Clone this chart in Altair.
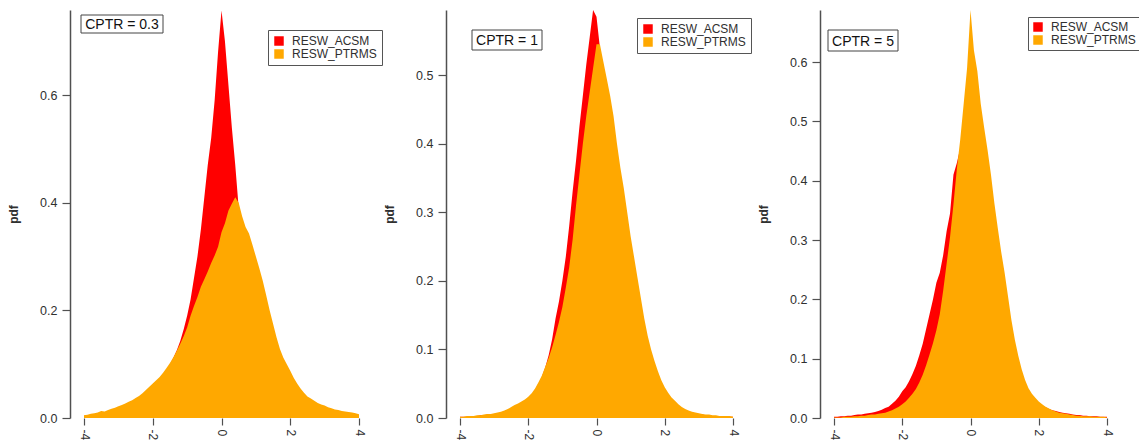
import altair as alt
import numpy as np
import pandas as pd

# bin centres (-4 .. 4, step 0.1)
bins = [round(v, 1) for v in np.arange(-40, 41) / 10.0]
series_names = ["RESW_ACSM", "RESW_PTRMS"]
series_colors = ["#FF0000", "#FFA800"]

# ---------- CPTR = 0.3 ----------
acsm_03 = [0.004, 0.005, 0.006, 0.007, 0.008, 0.010, 0.010, 0.012, 0.014, 0.016,
           0.018, 0.020, 0.022, 0.025, 0.028, 0.031, 0.035, 0.040, 0.045, 0.051,
           0.057, 0.064, 0.071, 0.080, 0.090, 0.100, 0.112, 0.126, 0.143, 0.165,
           0.190, 0.220, 0.260, 0.300, 0.350, 0.410, 0.470, 0.520, 0.590, 0.680,
           0.757, 0.700, 0.620, 0.540, 0.470, 0.390, 0.330, 0.280, 0.240, 0.210,
           0.180, 0.155, 0.135, 0.115, 0.100, 0.087, 0.076, 0.066, 0.058, 0.051,
           0.045, 0.040, 0.035, 0.031, 0.028, 0.025, 0.022, 0.020, 0.018, 0.016,
           0.014, 0.013, 0.012, 0.011, 0.010, 0.009, 0.008, 0.007, 0.006, 0.005,
           0.004]
ptrms_03 = [0.005, 0.006, 0.008, 0.009, 0.010, 0.013, 0.012, 0.015, 0.017, 0.019,
            0.022, 0.024, 0.027, 0.030, 0.033, 0.037, 0.041, 0.046, 0.052, 0.058,
            0.064, 0.070, 0.076, 0.084, 0.093, 0.102, 0.113, 0.125, 0.138, 0.152,
            0.168, 0.190, 0.208, 0.225, 0.244, 0.258, 0.272, 0.288, 0.302, 0.318,
            0.345, 0.362, 0.385, 0.398, 0.410, 0.400, 0.375, 0.355, 0.343, 0.322,
            0.300, 0.278, 0.255, 0.228, 0.200, 0.175, 0.150, 0.128, 0.112, 0.100,
            0.088, 0.075, 0.064, 0.055, 0.047, 0.040, 0.036, 0.032, 0.028, 0.025,
            0.023, 0.020, 0.018, 0.016, 0.015, 0.013, 0.012, 0.011, 0.010, 0.009,
            0.007]

# ---------- CPTR = 1 ----------
acsm_1 = [0.002, 0.002, 0.002, 0.003, 0.003, 0.003, 0.004, 0.004, 0.005, 0.005,
          0.006, 0.007, 0.008, 0.010, 0.012, 0.014, 0.017, 0.019, 0.022, 0.025,
          0.029, 0.034, 0.041, 0.050, 0.060, 0.074, 0.092, 0.115, 0.145, 0.170,
          0.200, 0.235, 0.280, 0.330, 0.375, 0.425, 0.470, 0.515, 0.555, 0.595,
          0.585, 0.540, 0.500, 0.460, 0.420, 0.380, 0.345, 0.310, 0.280, 0.250,
          0.220, 0.190, 0.165, 0.140, 0.120, 0.100, 0.083, 0.069, 0.057, 0.047,
          0.039, 0.032, 0.026, 0.021, 0.017, 0.014, 0.011, 0.009, 0.008, 0.007,
          0.006, 0.005, 0.004, 0.004, 0.003, 0.003, 0.003, 0.002, 0.002, 0.002,
          0.002]
ptrms_1 = [0.002, 0.002, 0.003, 0.003, 0.003, 0.004, 0.004, 0.005, 0.006, 0.006,
           0.007, 0.008, 0.009, 0.011, 0.013, 0.016, 0.019, 0.021, 0.024, 0.027,
           0.031, 0.036, 0.043, 0.052, 0.062, 0.075, 0.088, 0.103, 0.121, 0.140,
           0.162, 0.190, 0.220, 0.260, 0.310, 0.355, 0.400, 0.440, 0.475, 0.510,
           0.545, 0.545, 0.520, 0.495, 0.470, 0.440, 0.400, 0.365, 0.335, 0.300,
           0.265, 0.235, 0.205, 0.175, 0.145, 0.120, 0.100, 0.083, 0.068, 0.055,
           0.045, 0.037, 0.030, 0.025, 0.020, 0.016, 0.013, 0.011, 0.009, 0.008,
           0.007, 0.006, 0.005, 0.005, 0.004, 0.004, 0.003, 0.003, 0.003, 0.003,
           0.002]

# ---------- CPTR = 5 ----------
acsm_5 = [0.002, 0.002, 0.003, 0.003, 0.004, 0.004, 0.005, 0.006, 0.006, 0.007,
          0.008, 0.009, 0.010, 0.012, 0.014, 0.017, 0.019, 0.024, 0.029, 0.036,
          0.045, 0.052, 0.062, 0.074, 0.088, 0.106, 0.125, 0.150, 0.175, 0.200,
          0.228, 0.245, 0.275, 0.315, 0.345, 0.410, 0.430, 0.455, 0.470, 0.480,
          0.490, 0.470, 0.450, 0.420, 0.380, 0.340, 0.300, 0.270, 0.230, 0.200,
          0.170, 0.140, 0.115, 0.093, 0.075, 0.060, 0.048, 0.040, 0.034, 0.029,
          0.025, 0.021, 0.018, 0.015, 0.013, 0.012, 0.010, 0.009, 0.008, 0.007,
          0.006, 0.005, 0.005, 0.004, 0.004, 0.003, 0.003, 0.003, 0.002, 0.002,
          0.002]
ptrms_5 = [0.001, 0.001, 0.001, 0.002, 0.002, 0.002, 0.003, 0.003, 0.004, 0.004,
           0.005, 0.006, 0.006, 0.007, 0.008, 0.009, 0.011, 0.013, 0.016, 0.019,
           0.023, 0.028, 0.034, 0.041, 0.049, 0.060, 0.073, 0.089, 0.107, 0.126,
           0.148, 0.175, 0.215, 0.260, 0.305, 0.360, 0.420, 0.470, 0.530, 0.590,
           0.688, 0.620, 0.585, 0.530, 0.490, 0.452, 0.410, 0.362, 0.320, 0.280,
           0.245, 0.205, 0.165, 0.132, 0.105, 0.082, 0.064, 0.050, 0.041, 0.034,
           0.028, 0.023, 0.019, 0.016, 0.013, 0.011, 0.009, 0.008, 0.007, 0.006,
           0.005, 0.004, 0.004, 0.003, 0.003, 0.003, 0.002, 0.002, 0.002, 0.002,
           0.001]

labels = ["CPTR = 0.3", "CPTR = 1", "CPTR = 5"]
y_max = [0.758, 0.595, 0.688]
y_ticks = [[0.0, 0.2, 0.4, 0.6],
           [0.0, 0.1, 0.2, 0.3, 0.4, 0.5],
           [0.0, 0.1, 0.2, 0.3, 0.4, 0.5, 0.6]]
x_ticks = [-4, -2, 0, 2, 4]

FONT = "Liberation Sans"
AXIS_COLOR = "#505050"
TEXT_COLOR = "#303030"


def panel(acsm, ptrms, ymax, yticks, label, width, box, legend_xy, legend_pad):
    df = pd.DataFrame({
        "x": bins * 2,
        "pdf": acsm + ptrms,
        "series": [series_names[0]] * len(bins) + [series_names[1]] * len(bins),
    })
    area = alt.Chart(df).mark_area(interpolate="linear", opacity=1).encode(
        x=alt.X("x:Q", scale=alt.Scale(domain=[-4, 4], nice=False, zero=False),
                axis=alt.Axis(values=x_ticks, title=None, labelAngle=90,
                              labelExpr="datum.value + ''", domain=False,
                              ticks=True, tickSize=7, tickColor=AXIS_COLOR,
                              tickWidth=1.2, labelPadding=4, labelFontSize=12,
                              labelFont=FONT, labelColor=TEXT_COLOR,
                              labelAlign="left", labelBaseline="middle",
                              grid=False)),
        y=alt.Y("pdf:Q", stack=None,
                scale=alt.Scale(domain=[0, ymax], nice=False),
                axis=alt.Axis(values=yticks, format=".1f", title="pdf",
                              titleFont=FONT, titleFontSize=12,
                              titleFontWeight="bold", titleColor=TEXT_COLOR,
                              titlePadding=19, offset=14, domainColor=AXIS_COLOR,
                              domainWidth=1.5, tickColor=AXIS_COLOR, tickWidth=1.2,
                              tickSize=8, labelPadding=5, labelFontSize=12.5,
                              labelFont=FONT, labelColor=TEXT_COLOR, grid=False)),
        color=alt.Color("series:N",
                        scale=alt.Scale(domain=series_names, range=series_colors),
                        legend=alt.Legend(orient="none", legendX=legend_xy[0],
                                          legendY=legend_xy[1], title=None,
                                          fillColor="white", strokeColor="#555555",
                                          padding=legend_pad, rowPadding=1,
                                          symbolType="square", symbolSize=90,
                                          symbolStrokeWidth=0, labelFont=FONT,
                                          labelFontSize=12, labelColor=TEXT_COLOR,
                                          labelLimit=200, labelOffset=7)),
        order=alt.Order("series:N"),
    )
    lab_df = pd.DataFrame({"label": [label]})
    rect = alt.Chart(lab_df).mark_rect(fill="white", stroke="#444444",
                                       strokeWidth=1).encode(
        x=alt.value(box[0]), x2=alt.value(box[1]),
        y=alt.value(box[2]), y2=alt.value(box[3]))
    txt = alt.Chart(lab_df).mark_text(font=FONT, fontSize=14, color="#111111",
                                      align="center", baseline="middle").encode(
        x=alt.value((box[0] + box[1]) / 2), y=alt.value((box[2] + box[3]) / 2 + 1),
        text="label:N")
    return alt.layer(area, rect, txt).properties(width=width, height=408)


p1 = panel(acsm_03, ptrms_03, y_max[0], y_ticks[0], labels[0], 275,
           (-3, 79, 5, 23), (184, 20), 5)
p2 = panel(acsm_1, ptrms_1, y_max[1], y_ticks[1], labels[1], 273,
           (12, 82, 20, 40), (177, 8), 5)
p3 = panel(acsm_5, ptrms_5, y_max[2], y_ticks[2], labels[2], 273,
           (-6, 64, 20, 41), (194, 7), 4)

chart = alt.hconcat(p1, p2, p3, spacing=101, bounds="flush").resolve_scale(
    color="independent").resolve_legend(color="independent").properties(
    autosize=alt.AutoSizeParams(type="none"),
    padding={"left": 76, "top": 2, "right": 1055, "bottom": 422},
    background="white",
).configure_view(strokeWidth=0, stroke="transparent")

chart.save("out.html", embed_options={"renderer": "svg", "actions": False})
